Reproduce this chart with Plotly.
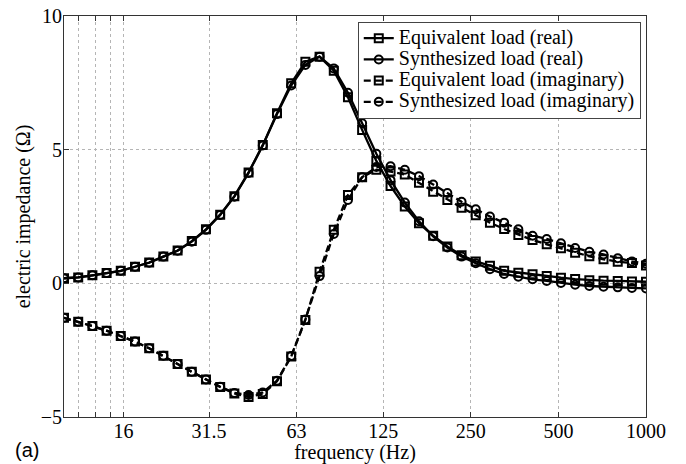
import plotly.graph_objects as go

# frequencies (Hz), 42 log-spaced points from 10 to 1000
freq = [10.0, 11.19, 12.52, 14.01, 15.67, 17.54, 19.62, 21.95, 24.57, 27.49,
        30.75, 34.41, 38.50, 43.08, 48.20, 53.94, 60.35, 67.53, 75.55, 84.54,
        94.59, 105.8, 118.4, 132.5, 148.3, 165.9, 185.6, 207.7, 232.4, 260.0,
        290.9, 325.5, 364.2, 407.5, 455.9, 510.2, 570.8, 638.7, 714.6, 799.6,
        894.7, 1000.0]

equiv_real = [0.19, 0.22, 0.30, 0.39, 0.47, 0.62, 0.78, 1.00, 1.23, 1.58,
              2.02, 2.57, 3.26, 4.15, 5.17, 6.36, 7.48, 8.29, 8.48, 7.95,
              6.96, 5.74, 4.58, 3.64, 2.87, 2.25, 1.78, 1.38, 1.05, 0.82,
              0.66, 0.47, 0.40, 0.34, 0.27, 0.21, 0.16, 0.12, 0.10, 0.09,
              0.07, 0.06]
synth_real = [0.19, 0.22, 0.30, 0.39, 0.47, 0.62, 0.77, 1.00, 1.22, 1.56,
              2.00, 2.56, 3.24, 4.13, 5.16, 6.33, 7.40, 8.17, 8.48, 8.04,
              7.13, 5.99, 4.85, 3.86, 3.02, 2.32, 1.76, 1.34, 1.00, 0.75,
              0.53, 0.35, 0.25, 0.15, 0.09, 0.01, -0.05, -0.10, -0.13, -0.15,
              -0.17, -0.19]
equiv_imag = [-1.29, -1.44, -1.60, -1.77, -1.97, -2.18, -2.43, -2.71, -3.02, -3.31,
              -3.60, -3.88, -4.12, -4.25, -4.14, -3.66, -2.74, -1.37, 0.43, 2.00,
              3.30, 3.97, 4.25, 4.18, 4.07, 3.76, 3.43, 3.12, 2.83, 2.55,
              2.27, 2.03, 1.81, 1.62, 1.46, 1.31, 1.14, 1.01, 0.90, 0.81,
              0.76, 0.67]
synth_imag = [-1.29, -1.44, -1.60, -1.77, -1.97, -2.18, -2.43, -2.71, -3.02, -3.31,
              -3.60, -3.87, -4.10, -4.18, -4.08, -3.64, -2.72, -1.35, 0.27, 1.85,
              3.12, 3.97, 4.35, 4.38, 4.25, 4.01, 3.70, 3.38, 3.05, 2.77,
              2.50, 2.27, 2.02, 1.78, 1.66, 1.50, 1.32, 1.18, 1.08, 0.94,
              0.82, 0.73]

x_tickvals = [11.2, 12.8, 14.4, 16, 31.5, 63, 125, 250, 500, 1000]
x_ticktext = ["", "", "", "16", "31.5", "63", "125", "250", "500", "1000"]
y_tickvals = [-5, 0, 5, 10]

SERIF = "Liberation Serif"
DASH = "7px,4px"

fig = go.Figure()
series = [
    ("Equivalent load (real)", equiv_real, "square-open", "solid"),
    ("Synthesized load (real)", synth_real, "circle-open", "solid"),
    ("Equivalent load (imaginary)", equiv_imag, "square-open", DASH),
    ("Synthesized load (imaginary)", synth_imag, "circle-open", DASH),
]
for name, vals, sym, dash in series:
    fig.add_trace(go.Scatter(
        x=freq, y=vals, mode="lines+markers",
        name='<span style="font-size:20px">' + name + '</span>',
        line=dict(color="black", width=2.3, dash=dash),
        marker=dict(symbol=sym, size=8, color="black", line=dict(width=2, color="black")),
    ))

axis_common = dict(
    showline=True, linecolor="#333333", linewidth=1, mirror="ticks",
    ticks="inside", ticklen=5, tickcolor="#333333",
    showgrid=True, gridcolor="#b5b5b5", griddash="dot", gridwidth=1,
    zeroline=False, automargin=False,
    tickfont=dict(family=SERIF, size=20, color="black"),
)

fig.update_xaxes(
    type="log", range=[1, 3], tickmode="array",
    tickvals=x_tickvals, ticktext=x_ticktext, ticklabelstandoff=-4,
    title=dict(text="frequency (Hz)", font=dict(family=SERIF, size=20, color="black"), standoff=0),
    **axis_common,
)
fig.update_yaxes(
    range=[-5, 10], tickmode="array", tickvals=y_tickvals, ticklabelstandoff=-3,
    title=dict(text="electric impedance (Ω)", font=dict(family=SERIF, size=20, color="black"), standoff=4),
    **axis_common,
)

fig.add_annotation(
    text="(a)", xref="paper", yref="paper", x=-0.088, y=-0.082,
    xanchor="left", yanchor="middle", showarrow=False,
    font=dict(family="Liberation Sans", size=20, color="black"),
)

fig.update_layout(
    width=686, height=464,
    margin=dict(l=64, r=40, t=16, b=47),
    paper_bgcolor="white", plot_bgcolor="white",
    font=dict(family=SERIF, size=20, color="black"),
    showlegend=True,
    legend=dict(
        x=0.991, y=0.986, xanchor="right", yanchor="top",
        bgcolor="white", bordercolor="#444444", borderwidth=1,
        font=dict(family=SERIF, size=14, color="black"),
        tracegroupgap=0, itemwidth=30,
    ),
)

fig.write_html(
    "out.html",
    config={"displayModeBar": False},
    post_script="document.body.style.margin='0';document.body.style.overflow='hidden';",
)
